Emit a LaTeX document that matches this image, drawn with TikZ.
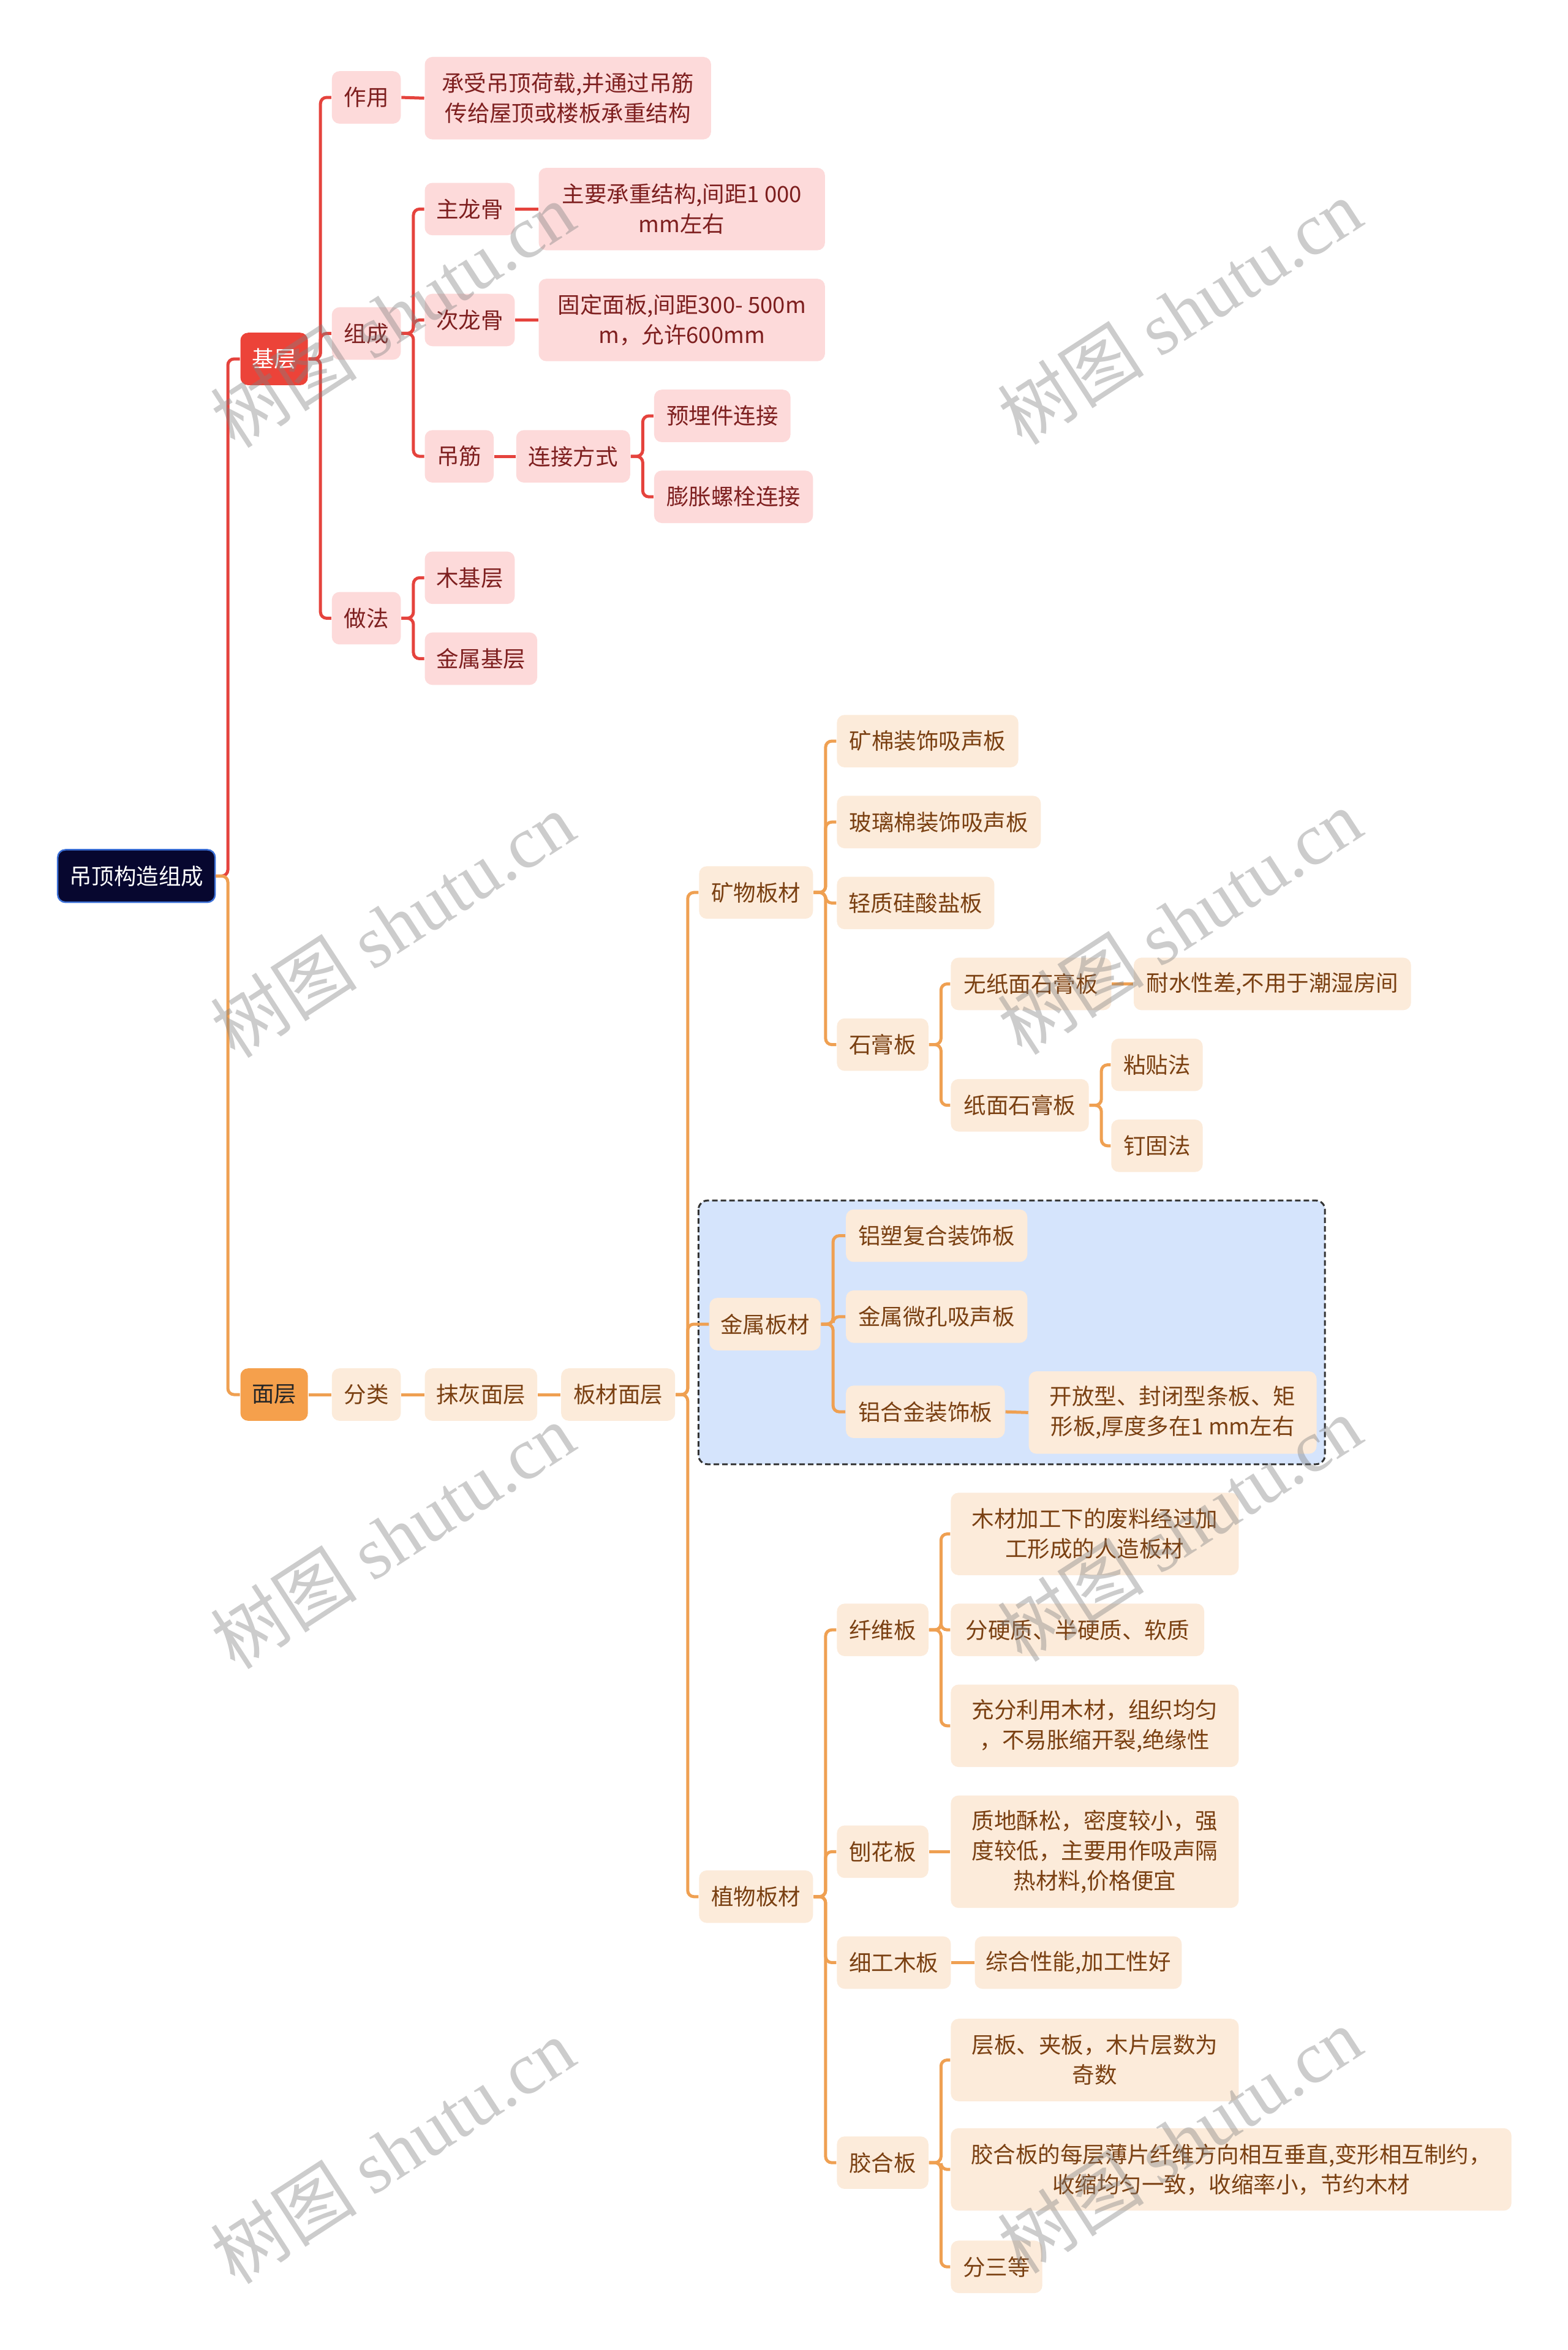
\documentclass[tikz,border=0pt]{standalone}
\usepackage{fontspec}
\setmainfont{Noto Sans CJK SC}
\newfontfamily\wmfont{Liberation Serif}
\newfontfamily\wmcjk{Noto Sans CJK SC}
\def\u{0.4895pt}
\definecolor{rline}{HTML}{E5433D}
\definecolor{rfill}{HTML}{FDDADA}
\definecolor{rtext}{HTML}{7E1F1F}
\definecolor{oline}{HTML}{EFA052}
\definecolor{ofill}{HTML}{FCEBDA}
\definecolor{otext}{HTML}{7A4012}
\definecolor{rootfill}{HTML}{07072F}
\definecolor{rootborder}{HTML}{3B6FD6}
\definecolor{jifill}{HTML}{EC4339}
\definecolor{mianfill}{HTML}{F5A04C}
\definecolor{boxfill}{HTML}{D5E4FC}
\begin{document}
\begin{tikzpicture}[x=\u, y=-\u,
  base/.style={anchor=west, rounded corners=2.5pt, inner sep=0pt, align=center,
    font={\fontsize{7.3pt}{9.8pt}\selectfont}, minimum height=35*\u},
  bw/.style={minimum width=#1*\u},
  bh/.style={minimum height=#1*\u},
  rn/.style={base, fill=rfill, text=rtext},
  on/.style={base, fill=ofill, text=otext},
  rl/.style={draw=rline, line width=1pt, rounded corners=2pt},
  ol/.style={draw=oline, line width=1pt, rounded corners=2pt},
  wm/.style={font={\fontsize{24pt}{24pt}\selectfont}, text=gray, text opacity=0.4, rotate=33, inner sep=0pt},
]
\useasboundingbox (0,0) rectangle (1046,1568);
\fill[white] (0,0) rectangle (1046,1568);

% dashed group box
\draw[fill=boxfill, draw=black!80, line width=0.6pt, dash pattern=on 1.8pt off 1pt, rounded corners=3pt] (466,801) rectangle (884,977);

% root and main branches
\node[base, fill=rootfill, draw=rootborder, line width=0.5pt, text=white, bw=105] (root) at (38,584.5) {吊顶构造组成};
\node[base, fill=jifill, text=white, bw=45] (jc) at (160,239.5) {基层};
\node[base, fill=mianfill, text=black!85, bw=45] (mc) at (160,930.5) {面层};

% red branch
\node[rn, bw=46] (zy) at (221,65) {作用};
\node[rn, bw=46] (zc) at (221,222.5) {组成};
\node[rn, bw=46] (zf) at (221,412.5) {做法};
\node[rn, bw=191, bh=55] (zyd) at (283,65.5) {承受吊顶荷载,并通过吊筋\\传给屋顶或楼板承重结构};
\node[rn, bw=60] (zlg) at (283,139.5) {主龙骨};
\node[rn, bw=60] (clg) at (283,213.5) {次龙骨};
\node[rn, bw=46] (dj) at (283,304.5) {吊筋};
\node[rn, bw=191, bh=55] (zlgd) at (359,139.5) {主要承重结构,间距1 000\\mm左右};
\node[rn, bw=191, bh=55] (clgd) at (359,213.5) {固定面板,间距300- 500m\\m，允许600mm};
\node[rn, bw=76] (ljfs) at (344,304.5) {连接方式};
\node[rn, bw=91] (ymj) at (436,277.5) {预埋件连接};
\node[rn, bw=106] (pzl) at (436,331.5) {膨胀螺栓连接};
\node[rn, bw=60] (mjc) at (283,385.5) {木基层};
\node[rn, bw=75] (jsjc) at (283,439.5) {金属基层};

% orange branch
\node[on, bw=46] (fl) at (221,930.5) {分类};
\node[on, bw=75] (mh) at (283,930.5) {抹灰面层};
\node[on, bw=76] (bc) at (374,930.5) {板材面层};
\node[on, bw=76] (kw) at (466,595.5) {矿物板材};
\node[on, bw=74] (js) at (473,883.5) {金属板材};
\node[on, bw=76] (zw) at (466,1265.5) {植物板材};
\node[on, bw=121] (k1) at (558,494.5) {矿棉装饰吸声板};
\node[on, bw=136] (k2) at (558,548.5) {玻璃棉装饰吸声板};
\node[on, bw=105] (k3) at (558,602.5) {轻质硅酸盐板};
\node[on, bw=61] (k4) at (558,697) {石膏板};
\node[on, bw=107] (s1) at (634,656.5) {无纸面石膏板};
\node[on, bw=185] (s1d) at (756,656.5) {耐水性差,不用于潮湿房间};
\node[on, bw=92] (s2) at (634,737.5) {纸面石膏板};
\node[on, bw=61] (s2a) at (741,710.5) {粘贴法};
\node[on, bw=61] (s2b) at (741,764.5) {钉固法};
\node[on, bw=121] (j1) at (564,824.5) {铝塑复合装饰板};
\node[on, bw=121] (j2) at (564,878.5) {金属微孔吸声板};
\node[on, bw=106] (j3) at (564,942) {铝合金装饰板};
\node[on, bw=192, bh=55] (j3d) at (686,942.5) {开放型、封闭型条板、矩\\形板,厚度多在1 mm左右};
\node[on, bw=61] (p1) at (558,1087.5) {纤维板};
\node[on, bw=192, bh=55] (p1a) at (634,1023.5) {木材加工下的废料经过加\\工形成的人造板材};
\node[on, bw=169] (p1b) at (634,1087.5) {分硬质、半硬质、软质};
\node[on, bw=192, bh=55] (p1c) at (634,1151.5) {充分利用木材，组织均匀\\，不易胀缩开裂,绝缘性};
\node[on, bw=61] (p2) at (558,1235.5) {刨花板};
\node[on, bw=192, bh=75] (p2a) at (634,1235.5) {质地酥松，密度较小，强\\度较低，主要用作吸声隔\\热材料,价格便宜};
\node[on, bw=76] (p3) at (558,1309.5) {细工木板};
\node[on, bw=138] (p3a) at (650,1309.5) {综合性能,加工性好};
\node[on, bw=61] (p4) at (558,1443) {胶合板};
\node[on, bw=192, bh=55] (p4a) at (634,1374.5) {层板、夹板，木片层数为\\奇数};
\node[on, bw=374, bh=55] (p4b) at (634,1447.5) {胶合板的每层薄片纤维方向相互垂直,变形相互制约，\\收缩均匀一致，收缩率小，节约木材};
\node[on, bw=61] (p4c) at (634,1512.5) {分三等};

% connectors red
\draw[rl] (root.east) -- ++(8,0) |- (jc.west);
\foreach \c in {zy,zc,zf} \draw[rl] (jc.east) -- ++(8,0) |- (\c.west);
\draw[rl] (zy.east) -- (zyd.west);
\foreach \c in {zlg,clg,dj} \draw[rl] (zc.east) -- ++(8,0) |- (\c.west);
\draw[rl] (zlg.east) -- (zlgd.west);
\draw[rl] (clg.east) -- (clgd.west);
\draw[rl] (dj.east) -- (ljfs.west);
\foreach \c in {ymj,pzl} \draw[rl] (ljfs.east) -- ++(8,0) |- (\c.west);
\foreach \c in {mjc,jsjc} \draw[rl] (zf.east) -- ++(8,0) |- (\c.west);

% connectors orange
\draw[ol] (root.east) -- ++(8,0) |- (mc.west);
\draw[ol] (mc.east) -- (fl.west);
\draw[ol] (fl.east) -- (mh.west);
\draw[ol] (mh.east) -- (bc.west);
\foreach \c in {kw,js,zw} \draw[ol] (bc.east) -- ++(8,0) |- (\c.west);
\foreach \c in {k1,k2,k3,k4} \draw[ol] (kw.east) -- ++(8,0) |- (\c.west);
\foreach \c in {s1,s2} \draw[ol] (k4.east) -- ++(8,0) |- (\c.west);
\draw[ol] (s1.east) -- (s1d.west);
\foreach \c in {s2a,s2b} \draw[ol] (s2.east) -- ++(8,0) |- (\c.west);
\foreach \c in {j1,j2,j3} \draw[ol] (js.east) -- ++(8,0) |- (\c.west);
\draw[ol] (j3.east) -- (j3d.west);
\foreach \c in {p1,p2,p3,p4} \draw[ol] (zw.east) -- ++(8,0) |- (\c.west);
\foreach \c in {p1a,p1b,p1c} \draw[ol] (p1.east) -- ++(8,0) |- (\c.west);
\draw[ol] (p2.east) -- (p2a.west);
\draw[ol] (p3.east) -- (p3a.west);
\foreach \c in {p4a,p4b,p4c} \draw[ol] (p4.east) -- ++(8,0) |- (\c.west);

% watermarks
\foreach \wx/\wy [count=\i] in {262/210, 787/208, 262/617, 787/615, 262/1025, 787/1020, 262/1435, 787/1428}
  \node[wm] (wm\i) at (\wx,\wy) {{\wmcjk 树图} {\wmfont shutu.cn}};
\end{tikzpicture}
\end{document}
